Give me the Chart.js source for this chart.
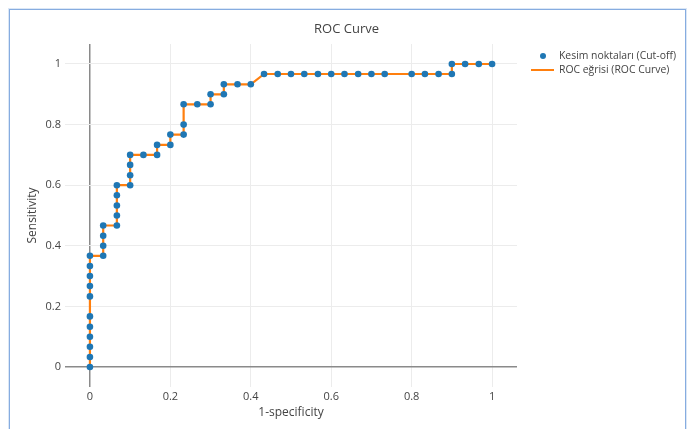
<!DOCTYPE html>
<html>
<head>
<meta charset="utf-8">
<title>ROC Curve</title>
<script src="https://cdn.jsdelivr.net/npm/chart.js@4/dist/chart.umd.min.js"></script>
<style>
  html, body { margin: 0; padding: 0; background: #fff; }
  #wrap { position: relative; width: 693px; height: 429px; overflow: hidden; }
  #frame { position: absolute; left: 9px; top: 9px; width: 675px; height: 440px;
           border: 1px solid #86ace0; box-shadow: 0 0 0 1px #dbe7f6; }
  canvas { position: absolute; left: 0; top: 0; }
</style>
</head>
<body>
<div id="wrap">
  <div id="frame"></div>
  <canvas id="roc" width="693" height="429"></canvas>
</div>
<script>
// values
const chartTitle = 'ROC Curve';
const xTitle = '1-specificity';
const yTitle = 'Sensitivity';
const seriesNames = ['Kesim noktaları (Cut-off)', 'ROC eğrisi (ROC Curve)'];

// 1-specificity of each cut-off, in curve order
const fpr = [
  0, 0, 0, 0, 0, 0, 0, 0, 0, 0, 0,
  0.033, 0.033, 0.033, 0.033,
  0.067, 0.067, 0.067, 0.067, 0.067,
  0.1, 0.1, 0.1, 0.1,
  0.133, 0.167, 0.167,
  0.2, 0.2,
  0.233, 0.233, 0.233,
  0.267, 0.3, 0.3,
  0.333, 0.333,
  0.367, 0.4,
  0.433, 0.467, 0.5, 0.533, 0.567, 0.6, 0.633, 0.667, 0.7, 0.733,
  0.8, 0.833, 0.867, 0.9,
  0.9, 0.933, 0.967, 1
];
// sensitivity of each cut-off
const tpr = [
  0, 0.033, 0.067, 0.1, 0.133, 0.167, 0.233, 0.267, 0.3, 0.333, 0.367,
  0.367, 0.4, 0.433, 0.467,
  0.467, 0.5, 0.533, 0.567, 0.6,
  0.6, 0.633, 0.667, 0.7,
  0.7, 0.7, 0.733,
  0.733, 0.767,
  0.767, 0.8, 0.867,
  0.867, 0.867, 0.9,
  0.9, 0.933,
  0.933, 0.933,
  0.967, 0.967, 0.967, 0.967, 0.967, 0.967, 0.967, 0.967, 0.967, 0.967,
  0.967, 0.967, 0.967, 0.967,
  1, 1, 1, 1
];

const tickValues = [0, 0.2, 0.4, 0.6, 0.8, 1];
const tickLabels = ['0', '0.2', '0.4', '0.6', '0.8', '1'];

const blue = '#1f77b4';
const orange = '#ff7f0e';
const textColor = '#444';
const font = "'Open Sans', sans-serif";

Chart.defaults.font.family = font;
Chart.defaults.color = textColor;

const points = fpr.map((x, i) => ({ x: x, y: tpr[i] }));

function fixedTicks(scale) {
  scale.ticks = tickValues.map(v => ({ value: v }));
}

function gridColor(ctx) {
  return ctx.tick && ctx.tick.value === 0 ? '#8a8a8a' : '#ececec';
}
function gridWidth(ctx) {
  return ctx.tick && ctx.tick.value === 0 ? 1.5 : 1;
}

// title and legend drawn like the plotly layout
const decorations = {
  id: 'decorations',
  afterDraw(chart) {
    const c = chart.ctx;
    c.save();
    c.fillStyle = textColor;
    c.textBaseline = 'middle';
    c.font = '13px ' + font;
    c.textAlign = 'center';
    c.fillText(chartTitle, chart.width / 2, 29);

    c.font = '10.4px ' + font;
    c.textAlign = 'left';
    const ds = chart.data.datasets;
    // marker entry
    c.beginPath();
    c.arc(543, 56, 3, 0, Math.PI * 2);
    c.fillStyle = ds[0].backgroundColor;
    c.fill();
    c.fillStyle = textColor;
    c.fillText(ds[0].label, 559, 56);
    // line entry
    c.beginPath();
    c.moveTo(531, 70);
    c.lineTo(554, 70);
    c.strokeStyle = ds[1].borderColor;
    c.lineWidth = 2;
    c.stroke();
    c.fillText(ds[1].label, 559, 70);
    c.restore();
  }
};

new Chart(document.getElementById('roc'), {
  type: 'scatter',
  data: {
    datasets: [
      {
        label: seriesNames[0],
        data: points,
        showLine: false,
        pointRadius: 3.3,
        pointHoverRadius: 3.3,
        pointBorderWidth: 0,
        backgroundColor: blue,
        borderColor: blue,
        order: 0
      },
      {
        label: seriesNames[1],
        data: points,
        showLine: true,
        tension: 0,
        pointRadius: 0,
        borderColor: orange,
        backgroundColor: orange,
        borderWidth: 2.2,
        order: 1
      }
    ]
  },
  options: {
    responsive: false,
    animation: false,
    layout: { padding: { left: 0, right: 176, top: 44, bottom: 0 } },
    plugins: {
      legend: { display: false },
      title: { display: false },
      tooltip: { enabled: false }
    },
    scales: {
      x: {
        type: 'linear',
        min: -0.062,
        max: 1.062,
        afterBuildTicks: fixedTicks,
        afterFit(scale) { scale.height = 42; },
        border: { display: false },
        grid: { color: gridColor, lineWidth: gridWidth, drawTicks: false },
        ticks: {
          padding: 3,
          font: { size: 11 },
          callback: v => tickLabels[tickValues.indexOf(v)]
        },
        title: { display: true, text: xTitle, font: { size: 12 }, padding: { top: 0, bottom: 9 } }
      },
      y: {
        type: 'linear',
        min: -0.066,
        max: 1.066,
        afterBuildTicks: fixedTicks,
        afterFit(scale) { scale.width = 65; },
        border: { display: false },
        grid: { color: gridColor, lineWidth: gridWidth, drawTicks: false },
        ticks: {
          padding: 4,
          font: { size: 11 },
          callback: v => tickLabels[tickValues.indexOf(v)]
        },
        title: { display: true, text: yTitle, font: { size: 12 }, padding: { top: 25, bottom: 0 } }
      }
    }
  },
  plugins: [decorations]
});
</script>
</body>
</html>
